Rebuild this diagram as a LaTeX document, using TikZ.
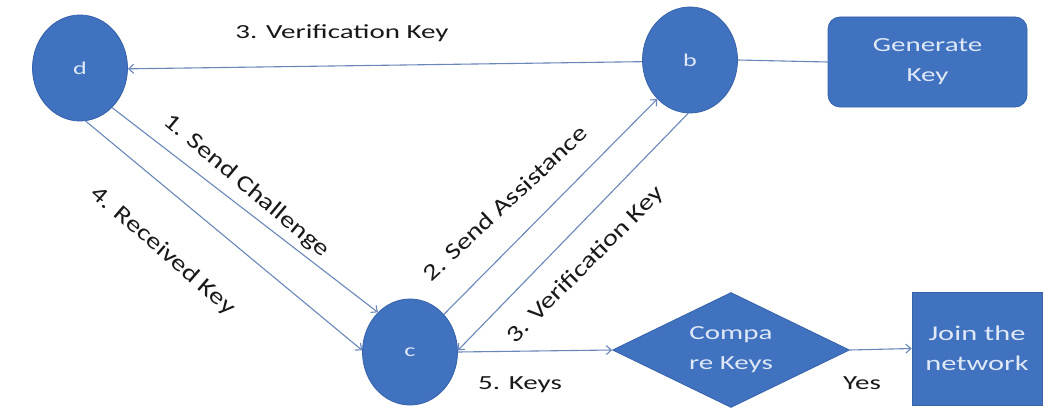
\documentclass[tikz,border=0pt]{standalone}
\usepackage{fontspec}
\setmainfont{Carlito}[FakeStretch=1.45]
\newfontfamily\rotfont{Carlito}[FakeStretch=1.25]
\usetikzlibrary{shapes.geometric,arrows.meta}
\definecolor{nodeblue}{RGB}{64,114,192}
\definecolor{nodeedge}{RGB}{54,98,170}
\definecolor{linecol}{RGB}{105,135,185}
\definecolor{lighttext}{RGB}{222,232,246}
\definecolor{labeltext}{RGB}{25,25,25}
\begin{document}
\begin{tikzpicture}[x=1pt,y=-1pt,
  circ/.style={ellipse,fill=nodeblue,draw=nodeedge,line width=0.8pt,minimum width=95pt,minimum height=106pt,inner sep=0pt,text=lighttext,font=\fontsize{18}{20}\selectfont},
  gkbox/.style={rectangle,rounded corners=12pt,fill=nodeblue,draw=nodeedge,line width=0.8pt,minimum width=199pt,minimum height=90pt,inner sep=0pt,align=center,text=lighttext,font=\fontsize{20}{30}\selectfont},
  joinbox/.style={rectangle,fill=nodeblue,draw=nodeedge,line width=0.8pt,minimum width=130pt,minimum height=113pt,inner sep=0pt,align=center,text=lighttext,font=\fontsize{21}{30}\selectfont},
  dia/.style={diamond,aspect=2,fill=nodeblue,draw=nodeedge,line width=0.8pt,minimum width=237pt,minimum height=115pt,inner sep=0pt,align=center,text=lighttext,font=\fontsize{20}{30}\selectfont},
  conn/.style={draw=linecol,line width=1.1pt},
  arr/.style={conn,-{Straight Barb[length=5pt,width=9pt]}},
  lbl/.style={text=labeltext,font=\fontsize{20}{24}\selectfont,inner sep=0pt},
  rlbl/.style={text=labeltext,font=\rotfont\fontsize{23}{26}\selectfont,inner sep=0pt}]
\useasboundingbox[fill=white] (0,0) rectangle (1046,412);
% nodes
\node[circ] (d) at (80,68) {d};
\node[circ] (b) at (690,60) {b};
\node[circ] (c) at (410,352) {c};
\node[gkbox] (gk) at (927.5,62) {Generate\\Key};
\node[dia] (cmp) at (731,350) {Compa\\re Keys};
\node[joinbox] (join) at (977,348.5) {Join the\\network};
% connectors
\draw[arr] (b.182) -- (d.-1);
\draw[arr] (d.-51) -- (c.129);
\draw[arr] (d.-84) -- (c.178);
\draw[arr] (c.48) -- (b.230);
\draw[arr] (b.-92) -- (c.2);
\draw[arr] (c.0) -- (cmp.west);
\draw[arr] (cmp.east) -- (join.west);
\draw[conn] (b.east) -- (gk.west);
% labels
\node[lbl] (l3top) at (342,33) {3. Verification Key};
\node[rlbl,rotate=-40] (l1) at (246,186) {1. Send Challenge};
\node[rlbl,rotate=-41] (l4) at (163,251) {4. Received Key};
\node[rlbl,rotate=43] (l2) at (505,203) {2. Send Assistance};
\node[rlbl,rotate=45] (l3d) at (586,265) {3. Verification Key};
\node[lbl] (l5) at (520,385) {5. Keys};
\node[lbl] (lyes) at (862,383) {Yes};
\end{tikzpicture}
\end{document}
